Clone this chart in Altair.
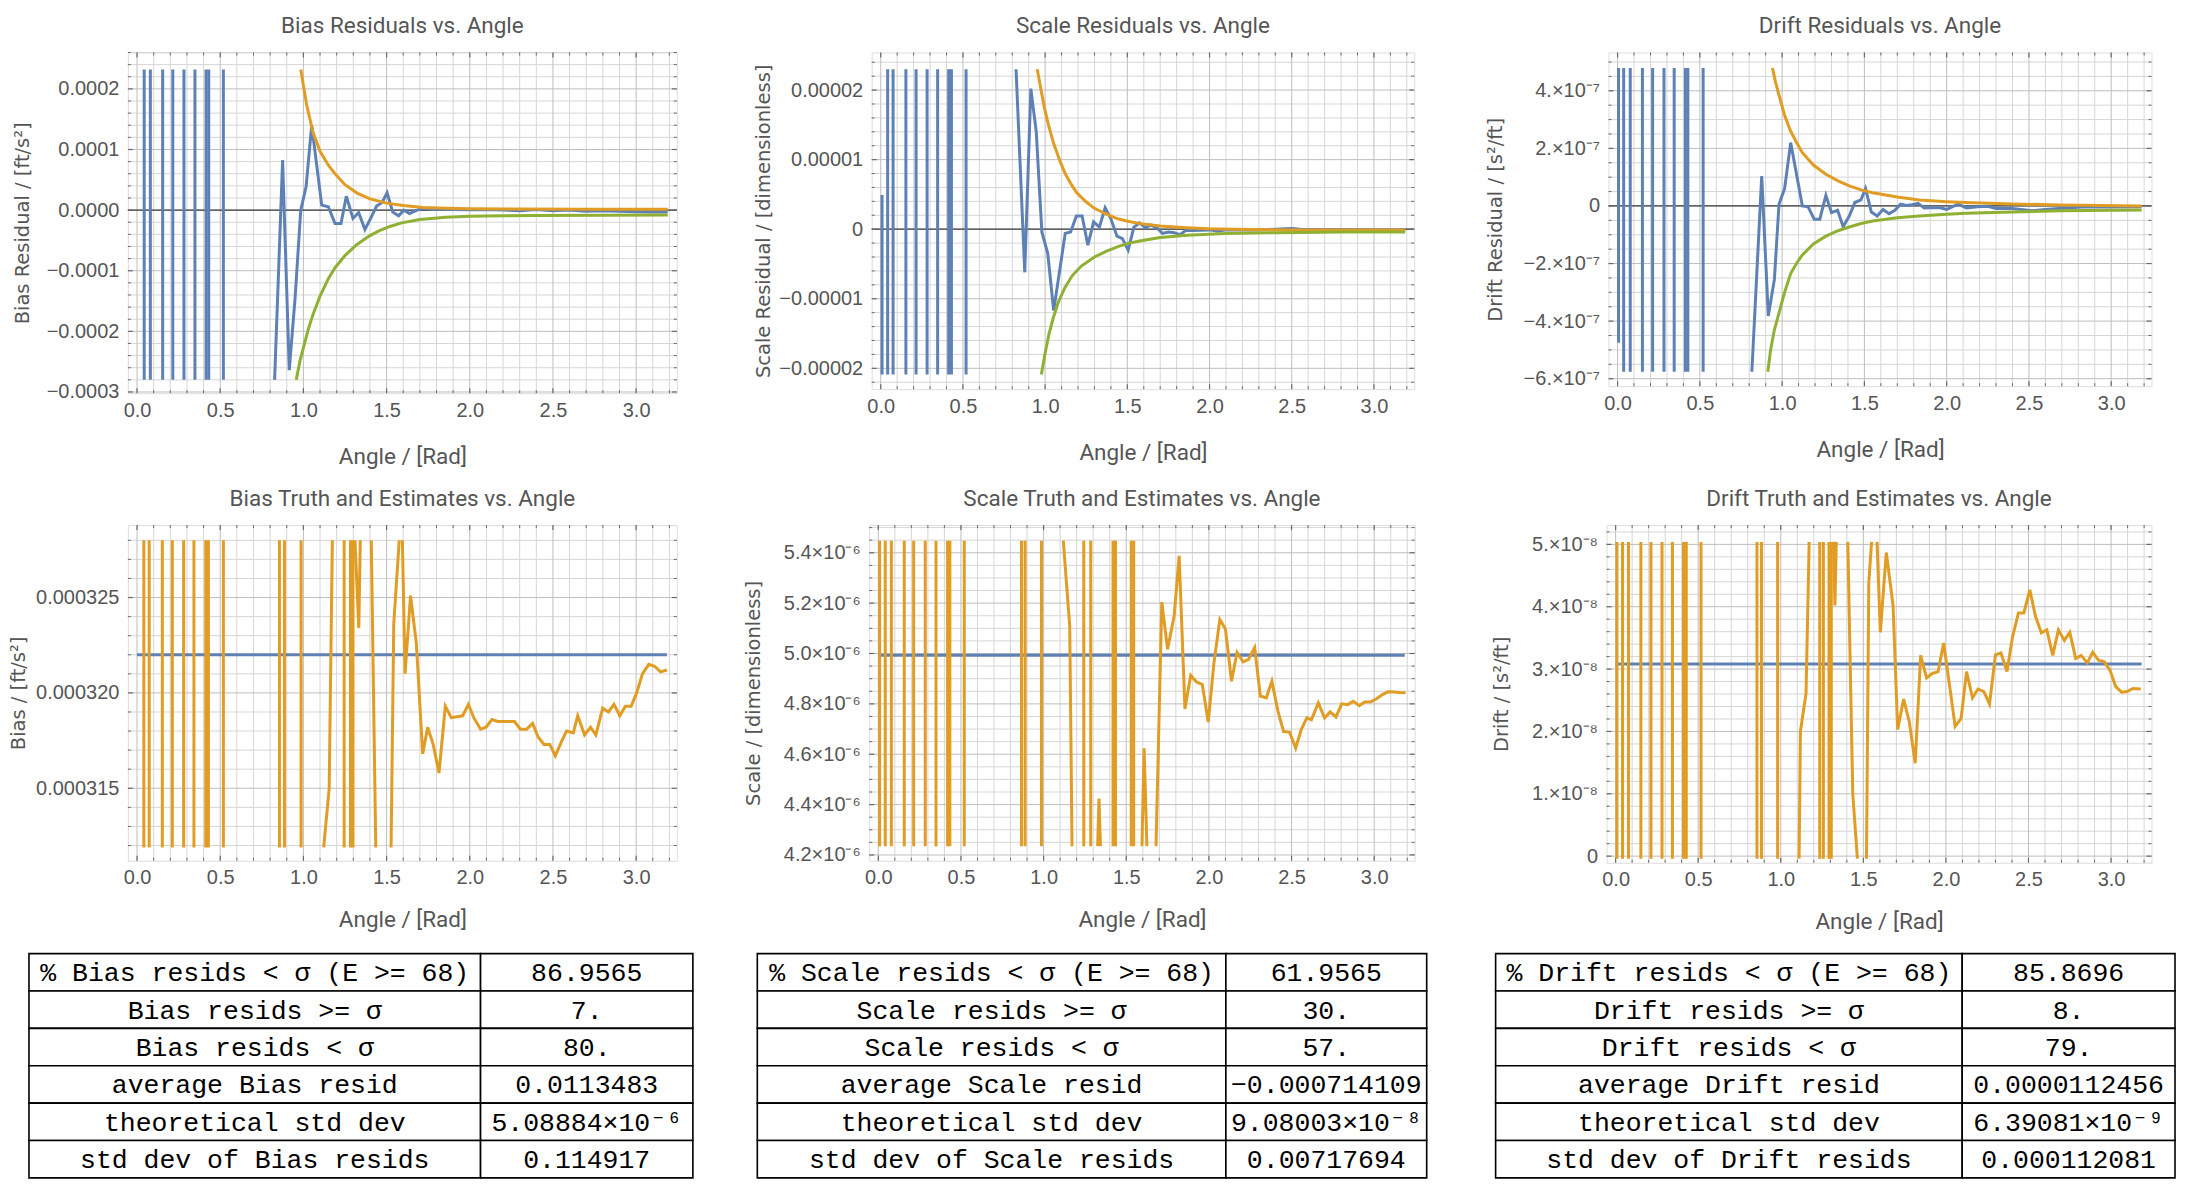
import altair as alt
import pandas as pd

# ---------------- colours / fonts ----------------
BLUE = "#5E81B5"
ORANGE = "#E19C24"
GREEN = "#8FB032"
FRAME = "#6a6a6a"
TEXT = "#555555"
GRID_MAJ = "#bebebe"
GRID_MIN = "#d6d6d6"
FONT_LABEL = "Liberation Sans, Arial, sans-serif"
FONT_TITLE = "Roboto, sans-serif"
FONT_YTITLE = "DejaVu Sans, sans-serif"
FONT_TABLE = "Liberation Mono, DejaVu Sans Mono, monospace"

# ---------------- shared x axis ----------------
X_DOMAIN = [-0.055, 3.245]
X_MAJOR = [0.0, 0.5, 1.0, 1.5, 2.0, 2.5, 3.0]

# ---------------- Bias residuals ----------------
bias_res_spikes = [0.043, 0.080, 0.154, 0.215, 0.282, 0.348, 0.415, 0.431, 0.519]
bias_res_clip = [-0.00028, 0.000232]
bias_res_x = [0.827, 0.875, 0.915, 0.950, 0.984, 1.016, 1.050, 1.110, 1.150, 1.190,
              1.226, 1.258, 1.298, 1.332, 1.370, 1.404, 1.440, 1.473, 1.503, 1.537,
              1.572, 1.604, 1.638, 1.670, 1.710, 1.745, 1.780, 1.850, 1.900, 2.000,
              2.100, 2.200, 2.300, 2.400, 2.500, 2.600, 2.700, 2.800, 2.900, 3.000,
              3.100, 3.190]
bias_res_y = [-0.00028, 0.0000824, -0.000264, -0.000145, 0.0, 0.0000385, 0.000140, 0.0000082, 0.0000055, -0.000022,
              -0.000022, 0.000023, -0.0000137, -0.0000038, -0.000032, -0.0000137, 0.0000066, 0.0000126, 0.0000286, -0.0000033,
              -0.0000093, 0.0, -0.0000055, -0.0000016, 0.0000027, 0.000003, 0.000001, 0.000002, 0.000001, 0.0000005,
              0.000001, 0.0, -0.000001, 0.000001, -0.000001, 0.0, -0.000002, -0.000001, -0.000002, -0.0000025,
              -0.000003, -0.000003]
bias_hi_x = [0.984, 1.020, 1.058, 1.100, 1.150, 1.190, 1.250, 1.320, 1.400, 1.500, 1.600, 1.720, 1.860, 2.000, 2.300, 2.700, 3.190]
bias_hi_y = [0.000232, 0.000173, 0.000128, 0.000097, 0.000074, 0.000060, 0.000042, 0.0000285, 0.0000185, 0.0000115,
             0.0000075, 0.0000045, 0.000003, 0.0000022, 0.0000018, 0.0000016, 0.0000015]
bias_lo_x = [0.957, 0.980, 1.005, 1.030, 1.058, 1.100, 1.150, 1.190, 1.250, 1.320, 1.400, 1.457, 1.520, 1.590,
             1.700, 1.856, 2.000, 2.200, 2.390, 2.800, 3.190]
bias_lo_y = [-0.00028, -0.000248, -0.000222, -0.000196, -0.000172, -0.000142, -0.000113, -0.000095, -0.000075,
             -0.000057, -0.000042, -0.000034, -0.000027, -0.000021, -0.0000155, -0.0000118, -0.0000102,
             -0.0000092, -0.0000088, -0.0000084, -0.0000082]

# ---------------- Scale residuals ----------------
scale_res_spikes = [0.042, 0.075, 0.153, 0.215, 0.282, 0.346, 0.413, 0.430, 0.519]
scale_res_clip = [-2.09e-5, 2.3e-5]
scale_res_x = [0.008, 0.008, None, 0.823, 0.876, 0.913, 0.946, 0.980, 1.016, 1.052, 1.122, 1.155, 1.190,
               1.225, 1.260, 1.295, 1.330, 1.365, 1.400, 1.437, 1.470, 1.505, 1.540, 1.574, 1.610, 1.644,
               1.680, 1.713, 1.750, 1.785, 1.820, 1.855, 1.900, 2.000, 2.050, 2.100, 2.300, 2.500, 2.550,
               2.700, 2.800, 3.000, 3.190]
scale_res_y = [-2.09e-5, 4.9e-6, None, 2.3e-5, -6.2e-6, 2.02e-5, 1.4e-5, -0.4e-6, -3.5e-6, -1.17e-5, -0.6e-6,
               -0.4e-6, 1.9e-6, 1.9e-6, -2.3e-6, 1.06e-6, 0.3e-6, 3.08e-6, 1.5e-6, -1.0e-6, -1.35e-6, -3.0e-6,
               0.3e-6, 0.9e-6, 0.2e-6, 0.6e-6, 0.2e-6, -0.6e-6, -0.4e-6, -0.5e-6, -0.8e-6, -0.2e-6, -0.2e-6,
               -0.1e-6, -0.3e-6, -0.1e-6, -0.1e-6, 0.1e-6, 0.0, -0.1e-6, -0.1e-6, -0.2e-6, -0.2e-6]
scale_hi_x = [0.952, 0.975, 0.996, 1.020, 1.052, 1.090, 1.122, 1.160, 1.190, 1.250, 1.300, 1.370, 1.440,
              1.510, 1.580, 1.700, 1.860, 2.000, 2.140, 2.500, 3.190]
scale_hi_y = [2.3e-5, 2.0e-5, 1.74e-5, 1.5e-5, 1.23e-5, 9.8e-6, 8.0e-6, 6.4e-6, 5.3e-6, 3.9e-6, 3.0e-6,
              2.2e-6, 1.5e-6, 1.1e-6, 0.8e-6, 0.45e-6, 0.2e-6, 0.05e-6, 0.0, -0.1e-6, -0.15e-6]
scale_lo_x = [0.977, 1.000, 1.024, 1.050, 1.080, 1.120, 1.164, 1.220, 1.300, 1.370, 1.443, 1.510, 1.583,
              1.700, 1.862, 2.100, 2.420, 2.800, 3.190]
scale_lo_y = [-2.09e-5, -1.78e-5, -1.5e-5, -1.27e-5, -1.05e-5, -8.4e-6, -6.7e-6, -5.3e-6, -4.0e-6, -3.2e-6,
              -2.5e-6, -2.0e-6, -1.65e-6, -1.2e-6, -0.87e-6, -0.62e-6, -0.5e-6, -0.42e-6, -0.4e-6]

# ---------------- Drift residuals ----------------
drift_res_spikes = [0.037, 0.077, 0.151, 0.213, 0.282, 0.344, 0.412, 0.427, 0.520]
drift_res_clip = [-5.76e-7, 4.79e-7]
drift_res_x = [0.006, 0.006, None, 0.816, 0.876, 0.916, 0.953, 0.981, 1.015, 1.052, 1.123, 1.158, 1.195,
               1.229, 1.266, 1.300, 1.337, 1.371, 1.408, 1.442, 1.479, 1.507, 1.542, 1.578, 1.613, 1.650,
               1.685, 1.720, 1.755, 1.790, 1.826, 1.863, 1.900, 1.960, 2.000, 2.070, 2.120, 2.200, 2.250,
               2.300, 2.400, 2.517, 2.600, 2.700, 2.850, 3.000, 3.185]
drift_res_y = [-4.75e-7, 4.79e-7, None, -5.76e-7, 1.04e-7, -3.82e-7, -2.55e-7, 0.06e-7, 0.6e-7, 2.2e-7, 0.0,
               -0.03e-7, -0.46e-7, -0.46e-7, 0.37e-7, -0.23e-7, -0.15e-7, -0.72e-7, -0.35e-7, 0.12e-7,
               0.21e-7, 0.6e-7, -0.21e-7, -0.35e-7, -0.12e-7, -0.27e-7, -0.15e-7, 0.06e-7, 0.02e-7, 0.04e-7,
               0.09e-7, -0.07e-7, -0.06e-7, -0.06e-7, -0.12e-7, 0.06e-7, -0.07e-7, -0.02e-7, -0.01e-7,
               -0.09e-7, -0.09e-7, -0.17e-7, -0.12e-7, -0.08e-7, -0.03e-7, -0.04e-7, -0.03e-7]
drift_hi_x = [0.941, 0.960, 0.981, 1.015, 1.050, 1.086, 1.123, 1.190, 1.266, 1.340, 1.408, 1.480, 1.550,
              1.700, 1.834, 2.000, 2.119, 2.400, 2.688, 3.185]
drift_hi_y = [4.79e-7, 4.3e-7, 3.85e-7, 3.15e-7, 2.62e-7, 2.22e-7, 1.85e-7, 1.42e-7, 1.1e-7, 0.87e-7, 0.7e-7,
              0.56e-7, 0.46e-7, 0.31e-7, 0.21e-7, 0.15e-7, 0.12e-7, 0.07e-7, 0.035e-7, 0.0]
drift_lo_x = [0.913, 0.930, 0.953, 0.981, 1.015, 1.052, 1.090, 1.123, 1.190, 1.266, 1.340, 1.408, 1.480,
              1.550, 1.700, 1.834, 2.000, 2.119, 2.400, 2.688, 3.185]
drift_lo_y = [-5.76e-7, -5.0e-7, -4.3e-7, -3.72e-7, -3.0e-7, -2.35e-7, -1.97e-7, -1.7e-7, -1.32e-7, -1.05e-7,
              -0.86e-7, -0.73e-7, -0.61e-7, -0.52e-7, -0.41e-7, -0.35e-7, -0.29e-7, -0.25e-7, -0.21e-7,
              -0.17e-7, -0.14e-7]

# ---------------- Truth and estimates ----------------
truth_span = [0.0, 3.185]
bias_truth = 0.000322
bias_est_spikes = [0.041, 0.073, 0.152, 0.212, 0.280, 0.342, 0.413, 0.429, 0.519, 0.856, 0.886, 0.986,
                   1.245, 1.283, 1.298]
bias_est_clip = [0.0003119, 0.000328]
bias_est_x = [1.122, 1.155, 1.174, None, 1.310, 1.333, 1.342, None, 1.408, 1.435, None, 1.527, 1.543, 1.576, None,
              1.595, 1.611, 1.644, 1.679, 1.717, 1.747, 1.780, 1.815, 1.853, 1.889, 1.957, 1.992, 2.024, 2.065,
              2.098, 2.133, 2.168, 2.201, 2.269, 2.304, 2.342, 2.378, 2.410, 2.446, 2.481, 2.514, 2.554, 2.582,
              2.622, 2.649, 2.690, 2.726, 2.758, 2.799, 2.834, 2.867, 2.902, 2.935, 2.970, 3.003, 3.038, 3.076,
              3.111, 3.147, 3.185]
bias_est_y = [0.0003119, 0.000315, 0.000328, None, 0.000328, 0.0003234, 0.000328, None, 0.000328, 0.0003119, None,
              0.0003119, 0.0003236, 0.000328, None,
              0.000328, 0.000321, 0.0003251, 0.0003226, 0.0003168, 0.0003182, 0.0003173, 0.0003158, 0.0003193,
              0.0003187, 0.0003188, 0.0003194, 0.0003187, 0.0003181, 0.0003182, 0.0003186, 0.0003185, 0.0003185,
              0.0003185, 0.0003181, 0.0003181, 0.0003184, 0.0003177, 0.0003173, 0.0003173, 0.0003167, 0.0003175,
              0.000318, 0.0003179, 0.0003188, 0.0003178, 0.0003182, 0.0003178, 0.0003192, 0.000319, 0.0003194,
              0.0003188, 0.0003193, 0.0003193, 0.00032, 0.000321, 0.0003215, 0.0003214, 0.0003211, 0.0003212]

scale_truth = 4.993e-6
scale_est_spikes = [0.008, 0.042, 0.079, 0.157, 0.214, 0.284, 0.349, 0.419, 0.433, 0.520, 0.866, 0.888, 0.987,
                    1.243, 1.285, 1.420, 1.435, 1.530, 1.545]
scale_est_clip = [4.235e-6, 5.448e-6]
scale_est_x = [1.119, 1.158, 1.172, None, 1.327, 1.335, 1.344, None, 1.595, 1.608, 1.625, None,
               1.680, 1.715, 1.750, 1.790, 1.820, 1.855, 1.890, 1.925, 1.960, 1.996, 2.030, 2.066, 2.100,
               2.137, 2.170, 2.207, 2.240, 2.277, 2.311, 2.347, 2.381, 2.418, 2.452, 2.488, 2.525, 2.558,
               2.592, 2.620, 2.662, 2.700, 2.733, 2.769, 2.803, 2.840, 2.873, 2.910, 2.943, 2.980, 3.014,
               3.050, 3.084, 3.120, 3.155, 3.190]
scale_est_y = [5.448e-6, 5.11e-6, 4.235e-6, None, 4.235e-6, 4.424e-6, 4.235e-6, None, 4.235e-6, 4.624e-6, 4.235e-6, None,
               4.235e-6, 5.204e-6, 5.017e-6, 5.15e-6, 5.388e-6, 4.78e-6, 4.913e-6, 4.887e-6, 4.877e-6, 4.728e-6,
               4.96e-6, 5.135e-6, 5.097e-6, 4.89e-6, 5.004e-6, 4.967e-6, 4.977e-6, 5.024e-6, 4.831e-6, 4.824e-6,
               4.89e-6, 4.77e-6, 4.69e-6, 4.688e-6, 4.624e-6, 4.697e-6, 4.744e-6, 4.737e-6, 4.804e-6, 4.744e-6,
               4.768e-6, 4.748e-6, 4.80e-6, 4.797e-6, 4.81e-6, 4.793e-6, 4.807e-6, 4.808e-6, 4.82e-6, 4.837e-6,
               4.848e-6, 4.847e-6, 4.845e-6, 4.844e-6]

drift_truth = 3.08e-8
drift_est_spikes = [0.008, 0.042, 0.078, 0.153, 0.214, 0.281, 0.344, 0.411, 0.428, 0.517, 0.856, 0.883, 0.981,
                    1.236, 1.258, 1.292, 1.306]
drift_est_clip = [-0.04e-8, 5.04e-8]
drift_est_x = [1.111, 1.119, 1.153, 1.172, None, 1.319, 1.328, 1.336, None, 1.406, 1.436, 1.464, None,
               1.519, 1.533, 1.550, None,
               1.583, 1.603, 1.639, 1.680, 1.708, 1.744, 1.778, 1.814, 1.847, 1.883, 1.917, 1.953, 1.986,
               2.022, 2.056, 2.092, 2.125, 2.161, 2.194, 2.230, 2.264, 2.300, 2.333, 2.370, 2.403, 2.439,
               2.472, 2.508, 2.542, 2.578, 2.611, 2.647, 2.681, 2.717, 2.750, 2.786, 2.819, 2.856, 2.889,
               2.925, 2.958, 2.994, 3.028, 3.064, 3.097, 3.133, 3.180]
drift_est_y = [-0.04e-8, 2.0e-8, 2.61e-8, 5.04e-8, None, 5.04e-8, 4.02e-8, 5.04e-8, None, 5.04e-8, 1.0e-8, -0.04e-8, None,
               -0.04e-8, 4.39e-8, 5.04e-8, None,
               5.04e-8, 3.59e-8, 4.87e-8, 4.02e-8, 2.03e-8, 2.52e-8, 2.16e-8, 1.49e-8, 3.22e-8, 2.86e-8,
               2.93e-8, 2.96e-8, 3.42e-8, 2.74e-8, 2.08e-8, 2.21e-8, 2.96e-8, 2.54e-8, 2.68e-8, 2.64e-8,
               2.44e-8, 3.23e-8, 3.26e-8, 2.96e-8, 3.51e-8, 3.90e-8, 3.90e-8, 4.27e-8, 3.85e-8, 3.58e-8,
               3.63e-8, 3.22e-8, 3.63e-8, 3.46e-8, 3.59e-8, 3.17e-8, 3.22e-8, 3.10e-8, 3.27e-8, 3.14e-8,
               3.12e-8, 2.98e-8, 2.72e-8, 2.63e-8, 2.64e-8, 2.69e-8, 2.68e-8]

# ---------------- tables ----------------
bias_tbl_labels = ["% Bias resids < σ (E >= 68)", "Bias resids >= σ", "Bias resids < σ",
                   "average Bias resid", "theoretical std dev", "std dev of Bias resids"]
bias_tbl_values = ["86.9565", "7.", "80.", "0.0113483", "5.08884×10⁻⁶", "0.114917"]
scale_tbl_labels = ["% Scale resids < σ (E >= 68)", "Scale resids >= σ", "Scale resids < σ",
                    "average Scale resid", "theoretical std dev", "std dev of Scale resids"]
scale_tbl_values = ["61.9565", "30.", "57.", "−0.000714109", "9.08003×10⁻⁸", "0.00717694"]
drift_tbl_labels = ["% Drift resids < σ (E >= 68)", "Drift resids >= σ", "Drift resids < σ",
                    "average Drift resid", "theoretical std dev", "std dev of Drift resids"]
drift_tbl_values = ["85.8696", "8.", "79.", "0.0000112456", "6.39081×10⁻⁹", "0.000112081"]


# ---------------- helpers ----------------
def series_df(spikes, clip, xs, ys):
    assert len(xs) == len(ys)
    rows = []
    seg = 0
    for x in spikes:
        rows.append((x, clip[0], seg, 0))
        rows.append((x, clip[1], seg, 1))
        seg += 1
    k = 0
    for x, y in zip(xs, ys):
        if x is None:
            seg += 1
            k = 0
            continue
        rows.append((x, y, seg, k))
        k += 1
    return pd.DataFrame(rows, columns=["a", "v", "seg", "ord"])


def sub_positions(majors, sub, dom):
    d = (majors[1] - majors[0]) / sub
    out = []
    for k in range(-80, 400):
        v = majors[0] + k * d
        if dom[0] <= v <= dom[1] and all(abs(v - m) > d * 0.1 for m in majors):
            out.append(v)
    return out


def all_majors(majors, dom):
    d = majors[1] - majors[0]
    out = []
    for k in range(-40, 100):
        v = majors[0] + k * d
        if dom[0] <= v <= dom[1]:
            out.append(v)
    return out


TICK_MAJ = 5
TICK_MIN = 3


def panel(title, ytitle, ydom, ymaj, ysub, yexpr, W, H, lines, zero=False, ytpad=16, xtpad=24):
    xsc = alt.Scale(domain=X_DOMAIN, nice=False, zero=False)
    ysc = alt.Scale(domain=ydom, nice=False, zero=False)
    xax = alt.Axis(values=X_MAJOR, labelExpr="format(datum.value, '.1f')", grid=False, ticks=False,
                   domain=False, labelPadding=7, labelFontSize=20, labelFont=FONT_LABEL,
                   labelColor=TEXT, labelFlush=False, labelOverlap=False,
                   title="Angle / [Rad]", titleFont=FONT_TITLE, titleFontSize=22.5,
                   titleFontWeight="normal", titleColor=TEXT, titlePadding=xtpad)
    yax = alt.Axis(values=ymaj, labelExpr=yexpr, grid=False, ticks=False, domain=False,
                   labelPadding=9, labelFontSize=20, labelFont=FONT_LABEL, labelColor=TEXT,
                   labelFlush=False, labelOverlap=False,
                   title=ytitle, titleFont=FONT_YTITLE, titleFontSize=19.5,
                   titleFontWeight="normal", titleColor=TEXT, titlePadding=ytpad)
    X = alt.X("a:Q", scale=xsc, axis=xax)
    Y = alt.Y("v:Q", scale=ysc, axis=yax)

    x_minor = sub_positions(X_MAJOR, 5, X_DOMAIN)
    x_major = all_majors(X_MAJOR, X_DOMAIN)
    y_minor = sub_positions(ymaj, ysub, ydom)
    y_major = all_majors(ymaj, ydom)

    def vr(vals, color, w, y0, y1):
        return alt.Chart(pd.DataFrame({"a": vals})).mark_rule(color=color, strokeWidth=w).encode(
            x=X, y=alt.value(y0), y2=alt.value(y1))

    def hr(vals, color, w, x0, x1):
        return alt.Chart(pd.DataFrame({"v": vals})).mark_rule(color=color, strokeWidth=w).encode(
            y=Y, x=alt.value(x0), x2=alt.value(x1))

    layers = [
        vr(x_minor, GRID_MIN, 1, 0, H),
        hr(y_minor, GRID_MIN, 1, 0, W),
        vr(x_major, GRID_MAJ, 1, 0, H),
        hr(y_major, GRID_MAJ, 1, 0, W),
    ]
    if zero:
        layers.append(hr([0.0], "#3c3c3c", 1.2, 0, W))
    # inward frame ticks
    layers += [
        vr(x_major, FRAME, 1.2, H, H - TICK_MAJ), vr(x_major, FRAME, 1.2, 0, TICK_MAJ),
        vr(x_minor, FRAME, 1, H, H - TICK_MIN), vr(x_minor, FRAME, 1, 0, TICK_MIN),
        hr(y_major, FRAME, 1.2, 0, TICK_MAJ), hr(y_major, FRAME, 1.2, W, W - TICK_MAJ),
        hr(y_minor, FRAME, 1, 0, TICK_MIN), hr(y_minor, FRAME, 1, W, W - TICK_MIN),
    ]
    for df, color in lines:
        layers.append(alt.Chart(df).mark_line(color=color, strokeWidth=3, clip=True).encode(
            x=X, y=Y, detail="seg:N", order="ord:Q"))
    return alt.layer(*layers).properties(
        width=W, height=H,
        title=alt.TitleParams(text=title, font=FONT_TITLE, fontSize=22.5, fontWeight="normal",
                              color=TEXT, anchor="middle", offset=14))


# ---------------- panels ----------------
p1 = panel("Bias Residuals vs. Angle", "Bias Residual / [ft/s²]", [-0.000302, 0.00026],
           [-0.0003, -0.0002, -0.0001, 0.0, 0.0001, 0.0002], 5, "format(datum.value, '.4f')",
           549.5, 341,
           [(series_df(bias_res_spikes, bias_res_clip, bias_res_x, bias_res_y), BLUE),
            (series_df([], bias_res_clip, bias_hi_x, bias_hi_y), ORANGE),
            (series_df([], bias_res_clip, bias_lo_x, bias_lo_y), GREEN)], zero=True, ytpad=14, xtpad=25)

p2 = panel("Scale Residuals vs. Angle", "Scale Residual / [dimensionless]", [-2.3e-5, 2.54e-5],
           [-2e-5, -1e-5, 0.0, 1e-5, 2e-5], 5,
           "datum.value == 0 ? '0' : format(datum.value, '.5f')",
           543, 337,
           [(series_df(scale_res_spikes, scale_res_clip, scale_res_x, scale_res_y), BLUE),
            (series_df([], scale_res_clip, scale_hi_x, scale_hi_y), ORANGE),
            (series_df([], scale_res_clip, scale_lo_x, scale_lo_y), GREEN)], zero=True, ytpad=5, xtpad=25)

p3 = panel("Drift Residuals vs. Angle", "Drift Residual / [s²/ft]", [-6.26e-7, 5.33e-7],
           [-6e-7, -4e-7, -2e-7, 0.0, 2e-7, 4e-7], 4,
           "datum.value == 0 ? '0' : (datum.value < 0 ? '−' : '') + format(abs(datum.value) * 1e7, '.0f') + '.×10⁻⁷'",
           543.5, 334,
           [(series_df(drift_res_spikes, drift_res_clip, drift_res_x, drift_res_y), BLUE),
            (series_df([], drift_res_clip, drift_hi_x, drift_hi_y), ORANGE),
            (series_df([], drift_res_clip, drift_lo_x, drift_lo_y), GREEN)], zero=True, ytpad=18, xtpad=25)

p4 = panel("Bias Truth and Estimates vs. Angle", "Bias / [ft/s²]", [0.0003112, 0.0003288],
           [0.000315, 0.00032, 0.000325], 5, "format(datum.value, '.6f')",
           549.5, 336,
           [(series_df([], bias_est_clip, truth_span, [bias_truth, bias_truth]), BLUE),
            (series_df(bias_est_spikes, bias_est_clip, bias_est_x, bias_est_y), ORANGE)], ytpad=7, xtpad=21)

p5 = panel("Scale Truth and Estimates vs. Angle", "Scale / [dimensionless]", [4.177e-6, 5.51e-6],
           [4.2e-6, 4.4e-6, 4.6e-6, 4.8e-6, 5.0e-6, 5.2e-6, 5.4e-6], 4,
           "format(datum.value * 1e6, '.1f') + '×10⁻⁶'",
           546, 336,
           [(series_df([], scale_est_clip, truth_span, [scale_truth, scale_truth]), BLUE),
            (series_df(scale_est_spikes, scale_est_clip, scale_est_x, scale_est_y), ORANGE)], ytpad=20, xtpad=21)

p6 = panel("Drift Truth and Estimates vs. Angle", "Drift / [s²/ft]", [-0.106e-8, 5.31e-8],
           [0.0, 1e-8, 2e-8, 3e-8, 4e-8, 5e-8], 5,
           "datum.value == 0 ? '0' : format(datum.value * 1e8, '.0f') + '.×10⁻⁸'",
           545.5, 338,
           [(series_df([], drift_est_clip, truth_span, [drift_truth, drift_truth]), BLUE),
            (series_df(drift_est_spikes, drift_est_clip, drift_est_x, drift_est_y), ORANGE)], ytpad=20, xtpad=21)

# ---------------- tables (geometry in page pixels, relative to panel origin) ----------------
ORIGIN_X = 130
TBL_GEOM = [(31, 483, 695.5), (760, 1229, 1430), (1499, 1966, 2179)]
ROW_H = 37.4
N_ROWS = 6
TW = 2179 - ORIGIN_X
TH = ROW_H * N_ROWS

cells, texts = [], []
for (left, mid, right), labs, vals in zip(
        TBL_GEOM,
        [bias_tbl_labels, scale_tbl_labels, drift_tbl_labels],
        [bias_tbl_values, scale_tbl_values, drift_tbl_values]):
    for r, (lab, val) in enumerate(zip(labs, vals)):
        y0, y1 = r * ROW_H, (r + 1) * ROW_H
        cells.append({"x0": left - ORIGIN_X, "x1": mid - ORIGIN_X, "y0": y0, "y1": y1})
        cells.append({"x0": mid - ORIGIN_X, "x1": right - ORIGIN_X, "y0": y0, "y1": y1})
        texts.append({"x": (left + mid) / 2 - ORIGIN_X, "y": (y0 + y1) / 2, "t": lab})
        texts.append({"x": (mid + right) / 2 - ORIGIN_X, "y": (y0 + y1) / 2, "t": val})

TX = alt.Scale(domain=[0, TW], nice=False, zero=False)
TY = alt.Scale(domain=[0, TH], nice=False, zero=False, reverse=True)
tbl_rect = alt.Chart(pd.DataFrame(cells)).mark_rect(fill="white", stroke="black", strokeWidth=1.6).encode(
    x=alt.X("x0:Q", scale=TX, axis=None), x2="x1:Q",
    y=alt.Y("y0:Q", scale=TY, axis=None), y2="y1:Q")
tbl_text = alt.Chart(pd.DataFrame(texts)).mark_text(
    font=FONT_TABLE, fontSize=26.5, color="black", align="center", baseline="middle", dy=1).encode(
    x=alt.X("x:Q", scale=TX, axis=None), y=alt.Y("y:Q", scale=TY, axis=None), text="t:N")
table = alt.layer(tbl_rect, tbl_text).properties(width=TW, height=TH,
                                                 view=alt.ViewBackground(stroke=None))

row1 = alt.hconcat(p1, p2, p3, spacing=194.5, bounds="flush")
row2 = alt.hconcat(p4, p5, p6, spacing=192, bounds="flush")

chart = alt.vconcat(row1, row2, table, spacing=19).properties(
    padding={"left": 0, "top": 6, "right": 4, "bottom": 4}
).configure_view(stroke=FRAME, strokeWidth=1.2).configure(background="white")

chart.save("out.html", embed_options={"renderer": "svg", "actions": False})
